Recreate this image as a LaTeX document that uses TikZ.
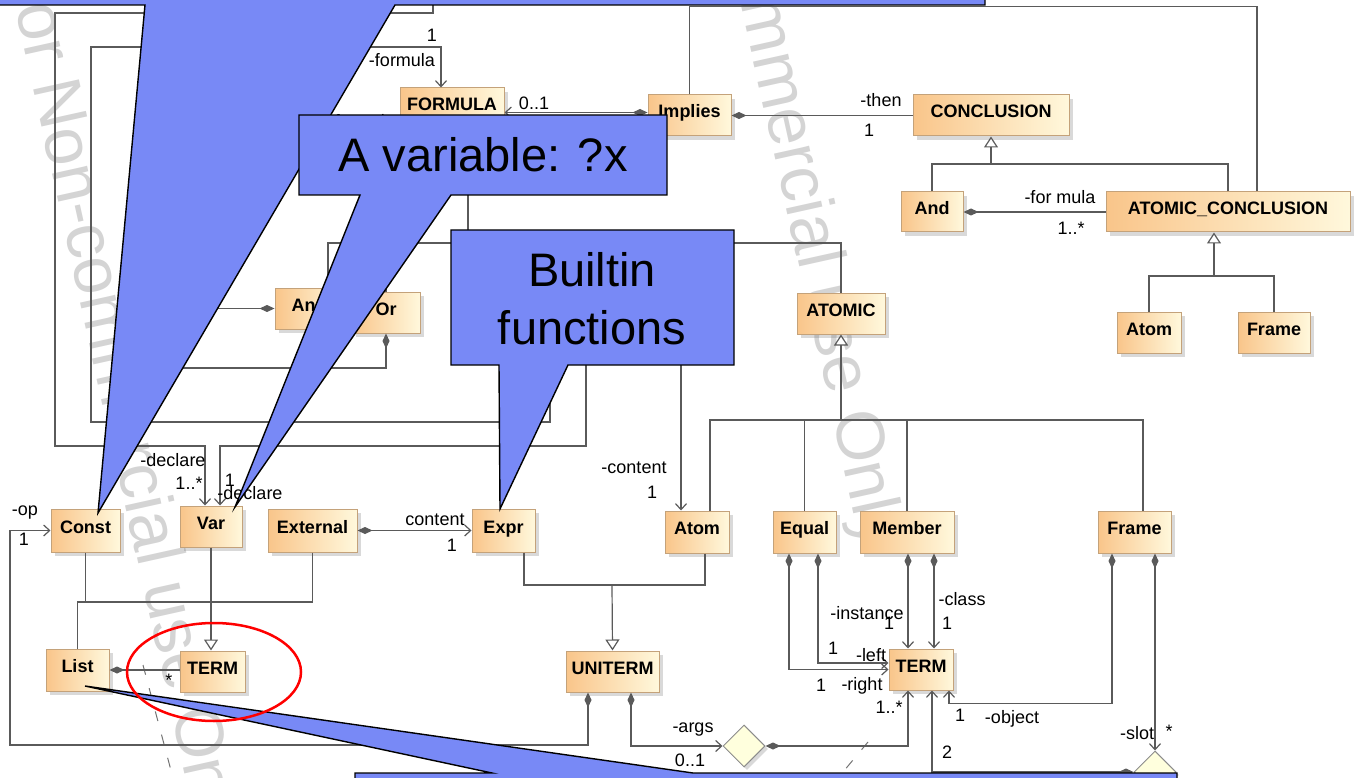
\documentclass[tikz,border=0pt]{standalone}
\usepackage{fontspec}
\setmainfont{Liberation Sans}
\usetikzlibrary{arrows.meta, positioning, calc, shapes.geometric, shadows}
\definecolor{linecol}{HTML}{5A5A5A}
\definecolor{clsleft}{HTML}{F9C58A}
\definecolor{clsright}{HTML}{FFF8DC}
\definecolor{clsedge}{HTML}{C4A27A}
\definecolor{assocfill}{HTML}{FFFFDD}
\definecolor{callblue}{HTML}{7889F6}
\definecolor{wmgray}{HTML}{D4D4D4}

\begin{document}
\begin{tikzpicture}[
    x=1pt, y=-1pt,
    every node/.style={font=\fontsize{18}{20}\selectfont},
    cls/.style={
        rectangle, draw=clsedge, line width=1pt,
        left color=clsleft, right color=clsright,
        font=\fontsize{18}{20}\selectfont\bfseries,
        minimum height=41pt, text height=13pt, text depth=8pt, inner xsep=3pt,
        drop shadow={shadow xshift=4pt, shadow yshift=-4pt, opacity=0.3},
    },
    assocd/.style={
        diamond, draw=black!45, line width=1pt, fill=assocfill,
        minimum width=42pt, minimum height=42pt, inner sep=0pt,
        drop shadow={shadow xshift=3pt, shadow yshift=-3pt, opacity=0.3},
    },
    conn/.style={draw=linecol, line width=1.2pt},
    assoc/.style={conn, -{Straight Barb[length=6pt, width=11pt]}},
    comp/.style={conn, {Diamond[length=15pt, width=7pt]}-{Straight Barb[length=6pt, width=11pt]}},
    compstart/.style={conn, {Diamond[length=15pt, width=7pt]}-},
    compend/.style={conn, -{Diamond[length=15pt, width=7pt]}},
    gen/.style={conn, -{Triangle[open, length=11pt, width=14pt, fill=white]}},
    lbl/.style={inner sep=0pt, font=\fontsize{18}{20}\selectfont},
    wm/.style={text=wmgray, inner sep=0pt, font=\fontsize{68}{70}\selectfont, rotate=-77.5},
    bubble/.style={fill=callblue, draw=black, line width=1.4pt, line join=miter},
    bubtext/.style={inner sep=0pt, align=center, font=\fontsize{47}{58}\selectfont},
]
\useasboundingbox (0,0) rectangle (1355,778);
\clip (0,0) rectangle (1355,778);

% ---------------------------------------------------------------- watermark
\node[wm] (wmleft) at (121,404) {For Non-commercial use Only};
\node[wm] (wmmid) at (782,107) {For Non-commercial use Only};
\draw[black!55, line width=1pt, dash pattern=on 10pt off 14pt] (143,665) -- (173,778);
\draw[black!55, line width=1pt, dash pattern=on 10pt off 14pt] (868,742) -- (838,778);

% ---------------------------------------------------------------- classes
\node[cls, minimum width=104pt] (formula) at (452,108.5) {FORMULA};
\node[cls, minimum width=83pt] (implies) at (689.5,115.5) {Implies};
\node[cls, minimum width=156pt] (conclusion) at (991,115.5) {CONCLUSION};
\node[cls, minimum width=62pt, minimum height=40pt] (andC) at (932,212) {And};
\node[cls, minimum width=244pt, minimum height=40pt] (atomicC) at (1228,212) {ATOMIC\_CONCLUSION};
\node[cls, minimum width=64pt] (atomR) at (1149,332.5) {Atom};
\node[cls, minimum width=72pt] (frameR) at (1274,332.5) {Frame};
\node[cls, minimum width=88pt] (atomic) at (841,313.5) {ATOMIC};
\node[cls, minimum width=68pt] (andF) at (309,308.5) {And};
\node[cls, minimum width=68pt] (orF) at (386,312.5) {Or};

\node[cls, minimum width=69pt, minimum height=43pt] (const) at (85.5,530.5) {Const};
\node[cls, minimum width=62pt] (var) at (211,526.5) {Var};
\node[cls, minimum width=89pt, minimum height=43pt] (external) at (312.5,530.5) {External};
\node[cls, minimum width=63pt, minimum height=43pt] (expr) at (503.5,530.5) {Expr};
\node[cls, minimum width=64pt, minimum height=42pt] (atomL) at (697,532) {Atom};
\node[cls, minimum width=63pt, minimum height=42pt] (equal) at (804.5,532) {Equal};
\node[cls, minimum width=94pt, minimum height=42pt] (member) at (907,532) {Member};
\node[cls, minimum width=73pt, minimum height=42pt] (frameL) at (1134.5,532) {Frame};

\node[cls, minimum width=63pt, minimum height=42pt] (list) at (77.5,670) {List};
\node[cls, minimum width=65pt] (termL) at (212.5,671.5) {TERM};
\node[cls, minimum width=93pt] (uniterm) at (612.5,671.5) {UNITERM};
\node[cls, minimum width=64pt] (termR) at (921,669.5) {TERM};

\node[assocd] (argsd) at (744,746) {};
\node[assocd] (slotd) at (1155,772) {};

% ---------------------------------------------------------------- bends and hidden ends
\coordinate (hidA) at (433,-5);
\coordinate (hidB) at (586,300);
\coordinate (hidC) at (550,300);
\coordinate (hidD) at (165,-5);
\coordinate (hidE) at (175,-5);
\coordinate (hidF) at (681,300);
\coordinate (fjoin) at (468,243);
\coordinate (cjoin) at (991,164);
\coordinate (ajoin) at (1214,276);
\coordinate (tjoin) at (841,420);
\coordinate (ujoin) at (612,585);
\coordinate (vjoin) at (211,602);

% ---------------------------------------------------------------- upper part
\draw[gen] (fjoin) -- (fjoin |- formula.south);
\draw[conn] ([xshift=19pt]andF.north) |- (fjoin);
\draw[conn] (orF.north) |- (fjoin);
\draw[conn] (atomic.north) |- (fjoin);

\draw[conn] (implies.north) -- ++(0,-88) -| ([xshift=29pt]atomicC.north);
\draw[comp] ([yshift=3pt]implies.west) -- ([yshift=-4pt]formula.east);
\draw[compstart] (implies.east) -- (conclusion.west);

\draw[gen] (cjoin) -- (conclusion.south);
\draw[conn] (andC.north) |- (cjoin);
\draw[conn] (atomicC.north) |- (cjoin);
\draw[compstart] (andC.east) -- (atomicC.west);
\draw[gen] (ajoin) -- (ajoin |- atomicC.south);
\draw[conn] (atomR.north) |- (ajoin);
\draw[conn] (frameR.north) |- (ajoin);

\draw[gen] (tjoin) -- (atomic.south);
\draw[conn] ([xshift=13pt]atomL.north) |- (tjoin);
\draw[conn] (equal.north) |- (tjoin);
\draw[conn] (member.north) |- (tjoin);
\draw[conn] ([xshift=8.5pt]frameL.north) |- (tjoin);

% the frames on the left
\draw[assoc] (hidA) |- (55,13) -- (55,446) -| ([xshift=-6pt]var.north);
\draw[assoc] (hidB) -- (586,446) -| ([xshift=9pt]var.north);
\draw[assoc] (hidC) |- (91,422) -- (91,47) -| ([xshift=-11pt]formula.north);
\draw[compend] (hidD) |- (andF.west);
\draw[compend] (hidE) -- (175,368) -| (orF.south);
\draw[assoc] (hidF) -- ([xshift=-16pt]atomL.north);

% ---------------------------------------------------------------- lower part
\draw[gen] (var.south) -- (var.south |- termL.north);
\draw[conn] (const.south) |- (vjoin);
\draw[conn] (external.south) |- (vjoin);
\draw[conn] (list.north) |- (vjoin);
\draw[compstart] (list.east) -- (list.east -| termL.west);

\draw[comp] ([xshift=-24.5pt]uniterm.south) |- (10,745) |- (const.west);
\draw[comp] (external.east) -- (expr.west);

\draw[gen] (ujoin) -- (uniterm.north);
\draw[conn] ([xshift=20.5pt]expr.south) |- (ujoin);
\draw[conn] ([xshift=8pt]atomL.south) |- (ujoin);

\draw[comp] ([xshift=18.5pt]uniterm.south) |- (argsd.west);
\draw[comp] (argsd.east) -| ([xshift=-13pt]termR.south);

\draw[comp] ([xshift=-15.5pt]equal.south) |- (termR.west);
\draw[comp] ([xshift=13.5pt]equal.south) |- ([yshift=6.5pt]termR.west);
\draw[comp] ([xshift=1pt]member.south) -- ([xshift=-13pt]termR.north);
\draw[comp] ([xshift=27pt]member.south) -- ([xshift=13pt]termR.north);
\draw[comp] ([xshift=-22.5pt]frameL.south) -- ++(0,150) -| ([xshift=28pt]termR.south);
\draw[comp] ([xshift=20.5pt]frameL.south) -- (slotd.north);
\draw[comp] (slotd.west) -| ([xshift=11pt]termR.south);

% ---------------------------------------------------------------- role names
\node[lbl] (lfone) at (432,35) {1};
\node[lbl] (lfname) at (402,60) {-formula};
\node[lbl] (lfleft) at (362,121) {-formula};
\node[lbl] (lfzero) at (534,103) {0..1};
\node[lbl] (lthen) at (881,100) {-then};
\node[lbl] (lthenone) at (869,130) {1};
\node[lbl] (lform) at (1060,197) {-for mula};
\node[lbl] (lformmult) at (1071,228) {1..*};
\node[lbl] (ldeca) at (173,460) {-declare};
\node[lbl] (ldecamult) at (189,483) {1..*};
\node[lbl] (ldecbone) at (230,480) {1};
\node[lbl] (ldecb) at (250,493) {-declare};
\node[lbl] (lop) at (25,513) {-op};
\node[lbl] (lopone) at (24,539) {1};
\node[lbl] (lcont) at (435,520) {content};
\node[lbl] (lcontone) at (452,545) {1};
\node[lbl] (lcontb) at (634,468) {-content};
\node[lbl] (lcontbone) at (652,492) {1};
\node[lbl] (lstar) at (169,680) {*};
\node[lbl] (largs) at (693,730) {-args};
\node[lbl] (largsmult) at (690,760) {0..1};
\node[lbl] (linst) at (867,613) {-instance};
\node[lbl] (linstone) at (889,623) {1};
\node[lbl] (lclass) at (962,599) {-class};
\node[lbl] (lclassone) at (947,623) {1};
\node[lbl] (lleftone) at (833,648) {1};
\node[lbl] (lleft) at (871,655) {-left};
\node[lbl] (lrightone) at (821,685) {1};
\node[lbl] (lright) at (862,686) {-right};
\node[lbl] (ltermmult) at (889,707) {1..*};
\node[lbl] (lobjone) at (960,715) {1};
\node[lbl] (lobj) at (1012,719) {-object};
\node[lbl] (lslot) at (1137,733) {-slot};
\node[lbl] (lslotmult) at (1169,731) {*};
\node[lbl] (ltwo) at (947,752) {2};

% ---------------------------------------------------------------- callouts
\draw[bubble] (-20,-60) -- (985,-60) -- (985,5) -- (395,5) -- (98,513) -- (145,5) -- (-20,5) -- cycle;
\draw[bubble] (299,115) -- (667,115) -- (667,195) -- (451,195) -- (235,507) -- (360,195) -- (299,195) -- cycle;
\draw[bubble] (451,230) -- (734,230) -- (734,365) -- (568,365) -- (500,509) -- (499,365) -- (451,365) -- cycle;
\draw[bubble] (355,773) -- (492,773) -- (85,686) -- (693,773) -- (1177,773) -- (1177,830) -- (355,830) -- cycle;

\node[bubtext] (varnote) at (483,155) {A variable: ?x};
\node[bubtext] (builtinnote) at (592,299) {Builtin\\functions};

% the ring round TERM
\draw[red, line width=2.5pt] (214,672) ellipse [x radius=87pt, y radius=49pt];

\end{tikzpicture}
\end{document}
